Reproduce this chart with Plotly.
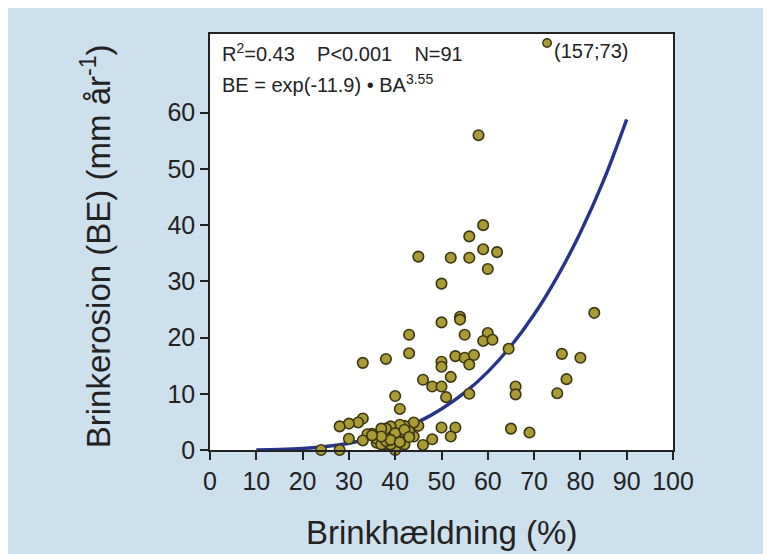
import plotly.graph_objects as go

# Brink slope (%) and brink erosion (mm/yr)
slope = [58, 59, 56, 59, 62, 45, 52, 56, 60, 50,
         54, 54, 50, 43, 55, 60, 59, 61, 64.5, 43,
         53, 55, 57, 56, 50, 50, 33, 38, 52, 46,
         48, 50, 51, 56, 40, 41, 66, 66, 76, 80,
         77, 75, 83, 65, 69, 50, 53, 52, 48, 46,
         45, 44, 44, 43, 42, 42, 42, 41, 40, 40,
         39, 39, 38, 38, 38, 37, 37, 36, 35, 34,
         33, 32, 30, 28, 30, 33, 28, 24, 39, 41,
         36, 37, 38, 40, 42, 43, 39, 37, 41, 35]
erosion = [56.0, 40.0, 38.0, 35.7, 35.2, 34.4, 34.2, 34.2, 32.2, 29.6,
           23.7, 23.2, 22.7, 20.5, 20.5, 20.8, 19.4, 19.6, 18.0, 17.2,
           16.7, 16.4, 16.9, 15.2, 15.7, 14.8, 15.5, 16.2, 13.0, 12.5,
           11.3, 11.3, 9.4, 10.0, 9.6, 7.3, 11.3, 9.9, 17.1, 16.4,
           12.6, 10.1, 24.4, 3.8, 3.1, 4.0, 4.0, 2.4, 1.9, 0.9,
           4.3, 4.9, 2.4, 3.3, 4.3, 2.0, 1.0, 4.5, 2.5, 0.0,
           4.2, 2.8, 3.8, 2.0, 1.0, 3.8, 1.5, 1.3, 2.9, 2.8,
           5.6, 4.9, 4.7, 4.2, 2.0, 1.7, 0.0, 0.0, 1.0, 1.5,
           2.0, 1.0, 1.6, 3.0, 3.6, 2.3, 1.8, 2.4, 1.4, 2.6]

# off-scale observation (157;73), drawn at the plot edge
outlier_x = [72.8]
outlier_y = [72.4]
outlier_label = "(157;73)"

# fitted curve BE = exp(-11.9)*BA^3.55
curve_x = [10, 15, 20, 25, 30, 35, 40, 45, 50, 55, 60, 65, 70, 75, 80, 85, 90]
curve_y = [0.02, 0.1, 0.28, 0.62, 1.2, 2.1, 3.3, 5.0, 7.3, 10.2, 13.9, 18.5,
           24.1, 30.8, 38.7, 47.9, 58.8]

x_ticks = [0, 10, 20, 30, 40, 50, 60, 70, 80, 90, 100]
y_ticks = [0, 10, 20, 30, 40, 50, 60]

marker = dict(size=10.5, color="#ab9b36", line=dict(color="#3b3612", width=1.6))
font_family = "Arial, Liberation Sans, sans-serif"

fig = go.Figure()
fig.add_trace(go.Scatter(x=curve_x, y=curve_y, mode="lines", line_shape="spline",
                         line=dict(color="#27348b", width=3.4), cliponaxis=False,
                         hoverinfo="skip"))
fig.add_trace(go.Scatter(x=slope, y=erosion, mode="markers", marker=marker,
                         cliponaxis=False))
fig.add_trace(go.Scatter(x=outlier_x, y=outlier_y, mode="markers",
                         marker=dict(size=8.5, color="#ab9b36",
                                     line=dict(color="#3b3612", width=1.4)),
                         cliponaxis=False))

fig.add_annotation(x=outlier_x[0], y=outlier_y[0], text=outlier_label,
                   showarrow=False, xanchor="left", yanchor="middle",
                   xshift=5, yshift=-8, font=dict(size=20, color="#222"))
fig.add_annotation(xref="paper", yref="paper", x=0.022, y=0.955,
                   text="R<sup>2</sup>=0.43&nbsp;&nbsp;&nbsp;&nbsp;P<0.001&nbsp;&nbsp;&nbsp;&nbsp;N=91",
                   showarrow=False, xanchor="left", yanchor="middle",
                   font=dict(size=20, color="#222"))
fig.add_annotation(xref="paper", yref="paper", x=0.022, y=0.882,
                   text="BE = exp(-11.9) • BA<sup>3.55</sup>",
                   showarrow=False, xanchor="left", yanchor="middle",
                   font=dict(size=20, color="#222"))
fig.add_annotation(xref="paper", yref="paper", x=-0.246, y=0.49,
                   text="Brinkerosion (BE) (mm år<sup>-1</sup>)", textangle=-90,
                   showarrow=False, xanchor="center", yanchor="middle",
                   font=dict(size=33, color="#222"))
fig.add_annotation(xref="paper", yref="paper", x=0.499, y=-0.198,
                   text="Brinkhældning (%)",
                   showarrow=False, xanchor="center", yanchor="middle",
                   font=dict(size=33, color="#222"))

axis_common = dict(showgrid=False, zeroline=False, showline=True, linecolor="#222",
                   linewidth=1.6, mirror=True, ticks="outside", ticklen=8,
                   tickwidth=1.8, tickcolor="#222",
                   tickfont=dict(size=25, color="#222", family=font_family))
fig.update_xaxes(range=[0, 100], tickvals=x_ticks, **axis_common)
fig.update_yaxes(range=[0, 74], tickvals=y_ticks, **axis_common)

fig.update_layout(
    width=771, height=554,
    margin=dict(l=202, r=106, t=26, b=112),
    paper_bgcolor="#cde0ee", plot_bgcolor="white",
    showlegend=False,
    font=dict(family=font_family, color="#222"),
)

fig.write_html("out.html")
